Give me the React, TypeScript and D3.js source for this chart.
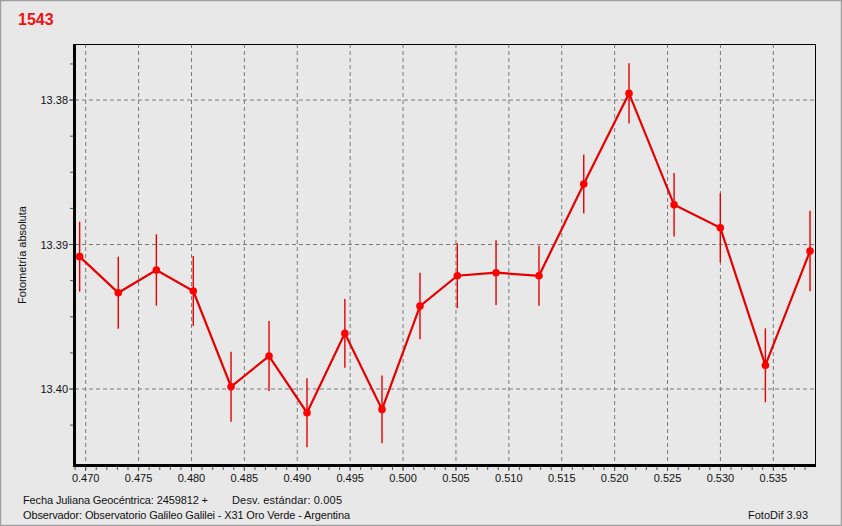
import React from "react";
import * as d3 from "d3";

const WIDTH = 842;
const HEIGHT = 526;
const MARGIN = { top: 44, right: 27, bottom: 61, left: 75 };

// fracción del día juliano (2459812 +)
const jdFrac = [
  0.46943, 0.47308, 0.47668, 0.48017, 0.48374, 0.48733, 0.49092, 0.4945,
  0.49801, 0.5016, 0.50513, 0.50879, 0.51285, 0.51708, 0.52136, 0.52562,
  0.52999, 0.53425, 0.53847,
];
// magnitud absoluta
const mag = [
  13.39084, 13.39334, 13.39176, 13.39322, 13.39984, 13.39772, 13.40164,
  13.39615, 13.40141, 13.39426, 13.39216, 13.39195, 13.39216, 13.38581,
  13.37954, 13.38725, 13.38884, 13.39836, 13.39045,
];
// semiancho de la barra de error
const err = [
  0.00242, 0.00249, 0.00247, 0.00242, 0.00242, 0.00242, 0.00239, 0.00238,
  0.00234, 0.0023, 0.00225, 0.00224, 0.00208, 0.00205, 0.00208, 0.0022,
  0.0024, 0.00256, 0.00279,
];

const xTicks = [
  0.47, 0.475, 0.48, 0.485, 0.49, 0.495, 0.5, 0.505, 0.51, 0.515, 0.52, 0.525,
  0.53, 0.535,
];
const yTicks = [13.38, 13.39, 13.4];

const FONT = "'Liberation Sans', Arial, sans-serif";
const RED = "#e60000";

export default function App() {
  const x0 = MARGIN.left;
  const x1 = WIDTH - MARGIN.right;
  const y0 = MARGIN.top;
  const y1 = HEIGHT - MARGIN.bottom;

  const xScale = d3.scaleLinear().domain([0.46899, 0.53894]).range([x0, x1]);
  // magnitudes: el eje crece hacia abajo
  const yScale = d3.scaleLinear().domain([13.37612, 13.40526]).range([y0, y1]);

  const pts = jdFrac.map((d, i) => ({ x: d, y: mag[i], e: err[i] }));
  const line = d3
    .line<{ x: number; y: number }>()
    .x((d) => xScale(d.x))
    .y((d) => yScale(d.y));

  const xMinor = d3.range(0.469, 0.5385, 0.001);
  const yMinor = d3.range(13.3775, 13.405, 0.0025);

  return (
    <svg
      width={WIDTH}
      height={HEIGHT}
      style={{ position: "absolute", left: 0, top: 0, fontFamily: FONT }}
    >
      <rect x={0} y={0} width={WIDTH} height={HEIGHT} fill="#e8e8e8" />
      <rect
        x={0.5}
        y={0.5}
        width={WIDTH - 1}
        height={HEIGHT - 1}
        fill="none"
        stroke="#a0a0a0"
        strokeWidth={1.5}
      />
      <text x={18} y={25} fill="#ee1111" fontSize={16} fontWeight="bold">
        1543
      </text>

      {/* rejilla */}
      {xTicks.map((t) => (
        <line
          key={"gx" + t}
          x1={xScale(t)}
          x2={xScale(t)}
          y1={y0}
          y2={y1}
          stroke="#7a7a7a"
          strokeDasharray="4,3"
        />
      ))}
      {yTicks.map((t) => (
        <line
          key={"gy" + t}
          x1={x0}
          x2={x1}
          y1={yScale(t)}
          y2={yScale(t)}
          stroke="#7a7a7a"
          strokeDasharray="4,3"
        />
      ))}

      {/* marco */}
      <line x1={x0} x2={x1 + 0.5} y1={y0 + 0.5} y2={y0 + 0.5} stroke="#000" />
      <line x1={x1 + 0.5} x2={x1 + 0.5} y1={y0} y2={y1} stroke="#000" />
      <line x1={x0 - 0.5} x2={x0 - 0.5} y1={y0} y2={y1 + 2} stroke="#000" strokeWidth={3} />
      <line x1={x0 - 2} x2={x1 + 1} y1={y1 + 0.5} y2={y1 + 0.5} stroke="#000" strokeWidth={3} />

      {/* eje x */}
      {xMinor.map((t) => (
        <line
          key={"mx" + t}
          x1={xScale(t)}
          x2={xScale(t)}
          y1={y1 + 2}
          y2={y1 + 5}
          stroke="#555"
        />
      ))}
      {xTicks.map((t) => (
        <g key={"tx" + t}>
          <line x1={xScale(t)} x2={xScale(t)} y1={y1 + 2} y2={y1 + 6} stroke="#555" />
          <text x={xScale(t)} y={482} textAnchor="middle" fontSize={11} fill="#111">
            {d3.format(".3f")(t)}
          </text>
        </g>
      ))}

      {/* eje y */}
      {yMinor.map((t) => (
        <line
          key={"my" + t}
          x1={x0 - 5}
          x2={x0 - 2}
          y1={yScale(t)}
          y2={yScale(t)}
          stroke="#555"
        />
      ))}
      {yTicks.map((t) => (
        <g key={"ty" + t}>
          <line x1={x0 - 6} x2={x0 - 2} y1={yScale(t)} y2={yScale(t)} stroke="#555" />
          <text
            x={68}
            y={yScale(t) + 4}
            textAnchor="end"
            fontSize={11}
            fill="#111"
          >
            {d3.format(".2f")(t)}
          </text>
        </g>
      ))}
      <text
        transform="translate(26,255) rotate(-90)"
        textAnchor="middle"
        fontSize={11}
        fill="#111"
      >
        Fotometría absoluta
      </text>

      {/* barras de error */}
      {pts.map((d, i) => (
        <line
          key={"e" + i}
          x1={xScale(d.x)}
          x2={xScale(d.x)}
          y1={yScale(d.y - d.e)}
          y2={yScale(d.y + d.e)}
          stroke={RED}
          strokeWidth={1.4}
        />
      ))}
      <path d={line(pts) || ""} fill="none" stroke={RED} strokeWidth={2.2} />
      {pts.map((d, i) => (
        <circle key={"p" + i} cx={xScale(d.x)} cy={yScale(d.y)} r={3.8} fill="#ff0000" />
      ))}

      {/* pie */}
      <text x={23} y={504} fontSize={11} fill="#111" textLength={185}>
        Fecha Juliana Geocéntrica: 2459812 +
      </text>
      <text x={232} y={504} fontSize={11} fill="#111" textLength={110}>
        Desv. estándar: 0.005
      </text>
      <text x={23} y={519} fontSize={11} fill="#111" textLength={327}>
        Observador: Observatorio Galileo Galilei - X31 Oro Verde - Argentina
      </text>
      <text x={748} y={519} fontSize={11} fill="#111" textLength={60}>
        FotoDif 3.93
      </text>
    </svg>
  );
}
